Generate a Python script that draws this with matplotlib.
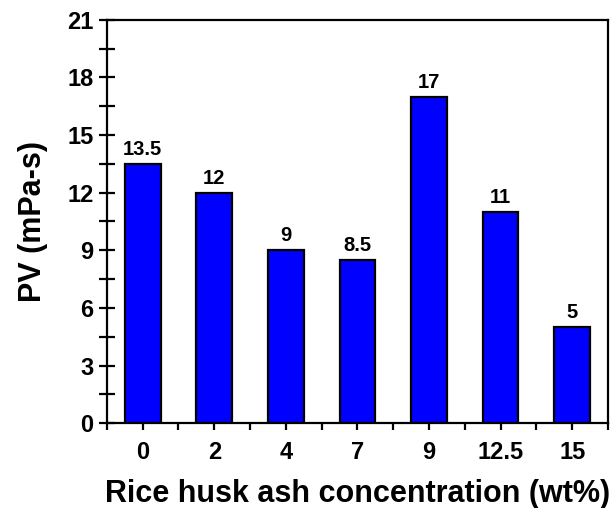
import matplotlib
matplotlib.use("Agg")
import matplotlib.pyplot as plt
from matplotlib.ticker import MultipleLocator, FixedLocator

categories = ["0", "2", "4", "7", "9", "12.5", "15"]
pv_values = [13.5, 12, 9, 8.5, 17, 11, 5]
value_labels = ["13.5", "12", "9", "8.5", "17", "11", "5"]

plt.rcParams['font.family'] = ['Liberation Sans', 'DejaVu Sans']
plt.rcParams['font.weight'] = 'bold'

fig = plt.figure(figsize=(6.11, 5.08), dpi=100)
ax = fig.add_axes([0.175, 0.167, 0.820, 0.794])

x = list(range(len(categories)))
bars = ax.bar(x, pv_values, width=0.5, color='#0000FF', edgecolor='black', linewidth=1.6, zorder=2)
for xi, v, lab in zip(x, pv_values, value_labels):
    ax.text(xi, v + 0.25, lab, ha='center', va='bottom', fontsize=14.5, fontweight='bold')

ax.set_xlim(-0.5, 6.5)
ax.set_ylim(0, 21)
ax.set_xticks(x)
ax.set_xticklabels(categories)
ax.xaxis.set_minor_locator(FixedLocator([i + 0.5 for i in range(-1, 7)]))
ax.yaxis.set_major_locator(MultipleLocator(3))
ax.yaxis.set_minor_locator(MultipleLocator(1.5))

for s in ax.spines.values():
    s.set_linewidth(1.6)

ax.tick_params(axis='y', which='both', direction='inout', length=11.5, width=1.6, labelsize=17, pad=4)
ax.tick_params(axis='x', which='both', direction='out', length=5, width=1.6, labelsize=17, pad=8)
for lab in ax.get_xticklabels() + ax.get_yticklabels():
    lab.set_fontweight('bold')

ax.set_xlabel("Rice husk ash concentration (wt%)", fontsize=22, fontweight='bold', labelpad=11)
ax.set_ylabel("PV (mPa-s)", fontsize=22, fontweight='bold', labelpad=14)

fig.savefig("out.png", dpi=100)
